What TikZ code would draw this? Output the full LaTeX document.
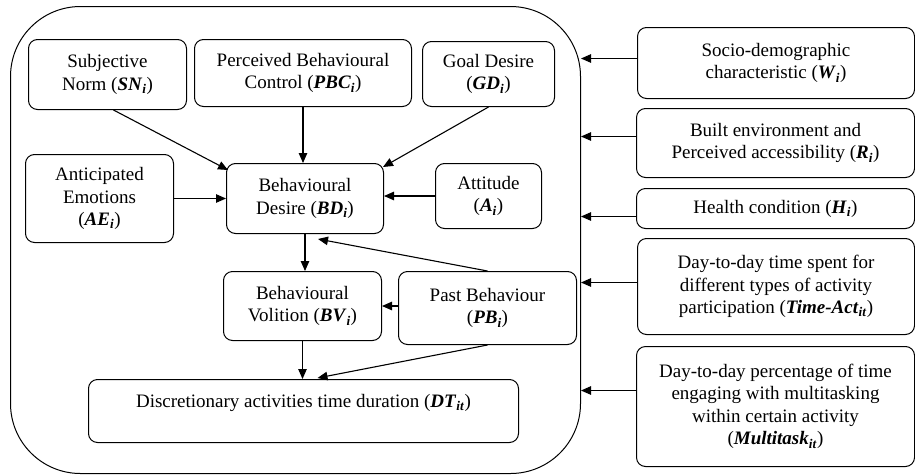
\documentclass[tikz,border=0pt]{standalone}
\usepackage{fontspec}
\setmainfont{LiberationSerif}[Extension=.ttf, UprightFont=*-Regular, BoldFont=*-Bold, ItalicFont=*-Italic, BoldItalicFont=*-BoldItalic]
\usetikzlibrary{arrows.meta,calc}
\newcommand{\vb}[2]{(\textbf{\textit{#1}}\textsubscript{\textbf{\textit{#2}}})}
\begin{document}
\begin{tikzpicture}[x=1pt,y=-1pt,
  box/.style={draw, line width=1pt, rounded corners=9pt, align=center, anchor=north west, inner sep=0pt, font=\fontsize{19}{22.5}\selectfont},
  sz/.style 2 args={minimum width=#1pt, minimum height=#2pt},
  arr/.style={-{Triangle[length=10pt,width=8.5pt]}, line width=1.1pt}]
\useasboundingbox (0,0) rectangle (915,474);
\node[draw, line width=1pt, rounded corners=70pt, anchor=north west, sz={570}{467}, inner sep=0pt] (outer) at (10,6) {};
\node[box, sz={158}{70}] (SN) at (28,39) {Subjective\\Norm \vb{SN}{i}};
\node[box, sz={217}{67}] (PBC) at (194,39) {Perceived Behavioural\\Control \vb{PBC}{i}};
\node[box, sz={132}{65}] (GD) at (422,41) {Goal Desire\\\vb{GD}{i}};
\node[box, sz={148}{88}] (AE) at (25,154) {Anticipated\\Emotions\\\vb{AE}{i}};
\node[box, sz={157}{70}] (BD) at (226,163) {Behavioural\\Desire \vb{BD}{i}};
\node[box, sz={106}{65}] (Att) at (435,163) {Attitude\\\vb{A}{i}};
\node[box, sz={158}{69}] (BV) at (223,271) {Behavioural\\Volition \vb{BV}{i}};
\node[box, sz={178}{73}] (PB) at (398,271) {Past Behaviour\\\vb{PB}{i}};
\node[box, sz={430}{63}, text depth=20pt] (DT) at (88,379) {Discretionary activities time duration \vb{DT}{it}};
\node[box, sz={277}{71}] (W) at (637,27) {Socio-demographic\\characteristic \vb{W}{i}};
\node[box, sz={278}{69}] (R) at (636,108) {Built environment and\\Perceived accessibility \vb{R}{i}};
\node[box, sz={278}{40}] (H) at (636,188) {Health condition \vb{H}{i}};
\node[box, sz={277}{96}] (TA) at (637,238) {Day-to-day time spent for\\different types of activity\\participation \vb{Time-Act}{it}};
\node[box, sz={278}{120}] (MT) at (636,346) {Day-to-day percentage of time\\engaging with multitasking\\within certain activity\\\vb{Multitask}{it}};
% internal arrows
\draw[arr] ($(SN.south)+(6,0)$) -- ($(BD.north west)+(2,7)$);
\draw[arr] (PBC.south) -- (PBC.south |- BD.north);
\draw[arr] (GD.south) -- ($(BD.north east)+(-1,4)$);
\draw[arr] (AE.east) -- (BD.west);
\draw[arr] (Att.west) -- (Att.west -| BD.east);
\draw[arr] (BD.south) -- (BD.south |- BV.north);
\draw[arr] (PB.north) -- ($(BD.south)+(13,5)$);
\draw[arr] (BV.east -| PB.west) -- (BV.east);
\draw[arr] (BV.south) -- (BV.south |- DT.north);
\draw[arr] (PB.south) -- ($(DT.north)+(14,-1)$);
% external arrows
\coordinate (w1) at ($(W.west)+(0,-4.5)$);
\coordinate (r1) at ($(R.west)+(0,-6.5)$);
\coordinate (h1) at ($(H.west)+(0,8)$);
\coordinate (t1) at ($(TA.west)+(0,-4)$);
\coordinate (m1) at ($(MT.west)+(0,-16)$);
\foreach \c in {w1,r1,h1,t1,m1}
  \draw[arr] (\c) -- (\c -| outer.east);
\end{tikzpicture}
\end{document}
